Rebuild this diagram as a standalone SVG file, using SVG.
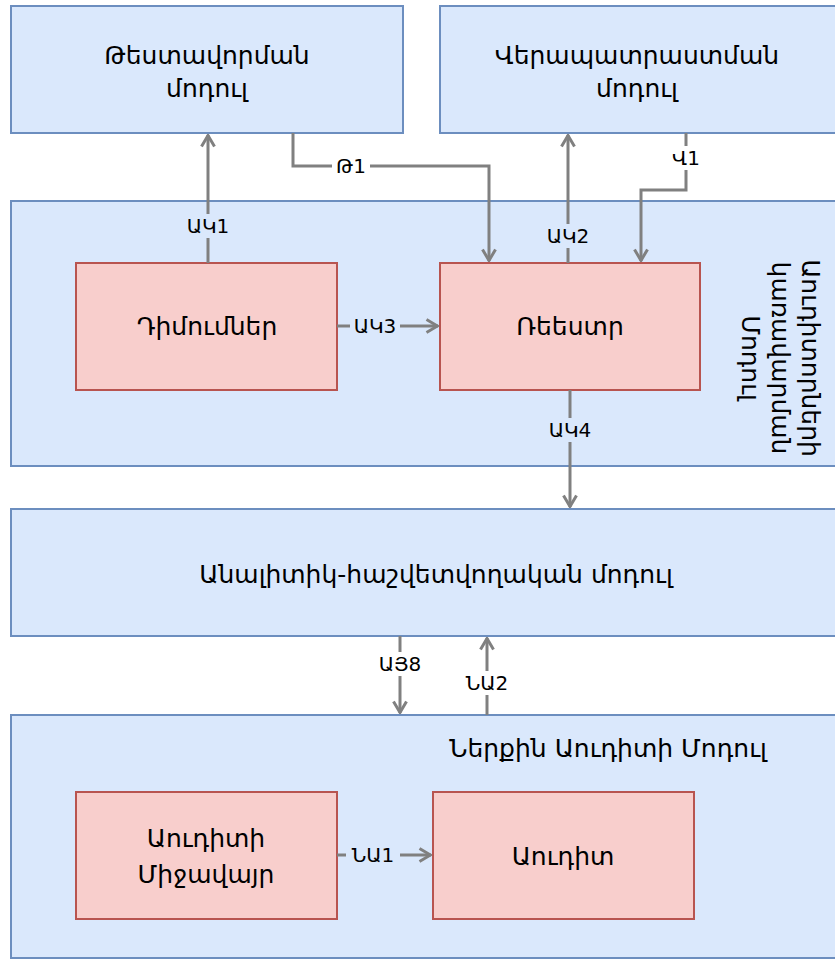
<svg xmlns="http://www.w3.org/2000/svg" width="835" height="960" viewBox="0 0 835 960">
  <style>
    .mod { fill: #dae8fc; stroke: #6c8ebf; stroke-width: 2; }
    .blk { fill: #f8cecc; stroke: #b85450; stroke-width: 2; }
    .t { font-family: "DejaVu Sans", "Noto Sans", sans-serif; font-size: 25px; fill: #000; text-anchor: middle; dominant-baseline: central; }
    .lbl { font-family: "DejaVu Sans", "Noto Sans", sans-serif; font-size: 20px; fill: #000; text-anchor: middle; dominant-baseline: central; }
    .wire { fill: none; stroke: #808080; stroke-width: 3; }
  </style>
  <defs>
    <marker id="arrow" viewBox="0 0 14 16" refX="13" refY="8" markerWidth="14" markerHeight="16" markerUnits="userSpaceOnUse" orient="auto">
      <path d="M1.5,1.5 L12.5,8 L1.5,14.5" fill="none" stroke="#808080" stroke-width="3"/>
    </marker>
  </defs>

  <!-- containers -->
  <g id="testing">
    <rect class="mod" x="11" y="6" width="392" height="127"/>
    <text class="t" x="207" y="55">Թեստավորման</text>
    <text class="t" x="207" y="88">մոդուլ</text>
  </g>
  <g id="training">
    <rect class="mod" x="440" y="6" width="400" height="127"/>
    <text class="t" x="637" y="55">Վերապատրաստման</text>
    <text class="t" x="637" y="88">մոդուլ</text>
  </g>
  <g id="auditors">
    <rect class="mod" x="11" y="201" width="830" height="265"/>
    <g transform="translate(778 358) rotate(90)">
      <text class="t" x="0" y="-32">Աուդիտորների</text>
      <text class="t" x="0" y="-2">կառավարման</text>
      <text class="t" x="0" y="28">Մոդուլ</text>
    </g>
  </g>
  <g id="analytics">
    <rect class="mod" x="11" y="509" width="830" height="127"/>
    <text class="t" x="436" y="574">Անալիտիկ-հաշվետվողական մոդուլ</text>
  </g>
  <g id="internal-audit">
    <rect class="mod" x="11" y="715" width="830" height="243"/>
    <text class="t" x="608" y="748">Ներքին Աուդիտի Մոդուլ</text>
  </g>

  <!-- inner blocks -->
  <g id="applications">
    <rect class="blk" x="76" y="263" width="261" height="127"/>
    <text class="t" x="207" y="326">Դիմումներ</text>
  </g>
  <g id="registry">
    <rect class="blk" x="440" y="263" width="260" height="127"/>
    <text class="t" x="570" y="326">Ռեեստր</text>
  </g>
  <g id="audit-env">
    <rect class="blk" x="76" y="792" width="261" height="127"/>
    <text class="t" x="206" y="838">Աուդիտի</text>
    <text class="t" x="206" y="874">Միջավայր</text>
  </g>
  <g id="audit">
    <rect class="blk" x="433" y="792" width="261" height="127"/>
    <text class="t" x="563" y="856">Աուդիտ</text>
  </g>

  <!-- connectors -->
  <g id="connectors">
    <path class="wire" d="M208,263 V135" marker-end="url(#arrow)"/>
    <path class="wire" d="M293,133 V166 H489 V261" marker-end="url(#arrow)"/>
    <path class="wire" d="M568,263 V135" marker-end="url(#arrow)"/>
    <path class="wire" d="M686,133 V190 H641 V261" marker-end="url(#arrow)"/>
    <path class="wire" d="M337,326 H438" marker-end="url(#arrow)"/>
    <path class="wire" d="M570,390 V507" marker-end="url(#arrow)"/>
    <path class="wire" d="M400,636 V713" marker-end="url(#arrow)"/>
    <path class="wire" d="M487,715 V638" marker-end="url(#arrow)"/>
    <path class="wire" d="M337,855 H431" marker-end="url(#arrow)"/>

    <rect x="185" y="214" width="46" height="24" fill="#dae8fc"/>
    <text class="lbl" x="208" y="226">ԱԿ1</text>
    <rect x="332" y="154" width="38" height="24" fill="#ffffff"/>
    <text class="lbl" x="351" y="166">Թ1</text>
    <rect x="545" y="224" width="46" height="24" fill="#dae8fc"/>
    <text class="lbl" x="568" y="236">ԱԿ2</text>
    <rect x="669" y="146" width="34" height="24" fill="#ffffff"/>
    <text class="lbl" x="686" y="158">Վ1</text>
    <rect x="350" y="314" width="50" height="24" fill="#dae8fc"/>
    <text class="lbl" x="375" y="326">ԱԿ3</text>
    <rect x="547" y="418" width="46" height="24" fill="#dae8fc"/>
    <text class="lbl" x="570" y="430">ԱԿ4</text>
    <rect x="376" y="652" width="48" height="24" fill="#ffffff"/>
    <text class="lbl" x="400" y="664">ԱՅ8</text>
    <rect x="463" y="671" width="48" height="24" fill="#ffffff"/>
    <text class="lbl" x="487" y="683">ՆԱ2</text>
    <rect x="346" y="843" width="54" height="24" fill="#dae8fc"/>
    <text class="lbl" x="373" y="855">ՆԱ1</text>
  </g>
</svg>
